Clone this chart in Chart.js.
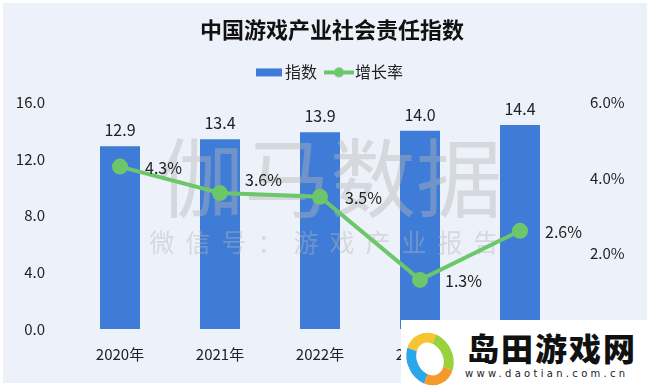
<!DOCTYPE html>
<html>
<head>
<meta charset="utf-8">
<script src="https://cdn.jsdelivr.net/npm/chart.js@4"></script>
<style>
  html, body { margin: 0; padding: 0; background: #fff; }
  #wrap { position: relative; width: 650px; height: 386px; }
  #box { position: absolute; left: 3px; top: 3px; width: 644px; height: 380px; background: #EDF1FA; }
  #c { position: absolute; left: 0; top: 0; }
  #logo { position: absolute; left: 401px; top: 320px; width: 249px; height: 66px; background: #fff; }
  #logo .ring { position: absolute; left: 6px; top: 12px; width: 26px; height: 34px; border-radius: 50%;
    border: 10px solid; border-color: #F7C531 #9BD13B #F39A2B #2BA6E8; transform: rotate(-25deg); }
  #logo .big { position: absolute; left: 66px; top: 4px; font: 900 32px "Noto Sans CJK SC"; color: #111; letter-spacing: 2px; }
  #logo .small { position: absolute; left: 64px; top: 48px; font: 10px "DejaVu Sans"; color: #222; letter-spacing: 3.3px; }
</style>
</head>
<body>
<div id="wrap">
  <div id="box"></div>
  <canvas id="c" width="650" height="386"></canvas>
  <div id="logo"><div class="ring"></div><div class="big">岛田游戏网</div><div class="small">www.daotian.com.cn</div></div>
</div>
<script>
// data
const years = ["2020年", "2021年", "2022年", "2023年", "2024年"];
const indexValues = [12.9, 13.4, 13.9, 14.0, 14.4];
const growthRates = [4.3, 3.6, 3.5, 1.3, 2.6];

const blue = "#3E7CD7";
const green = "#6CC76B";
const font = "'Noto Sans CJK SC', 'Noto Sans', sans-serif";

// legend icons
function icon(kind) {
  const cv = document.createElement("canvas");
  cv.width = 30; cv.height = 12;
  const g = cv.getContext("2d");
  if (kind === "bar") {
    g.fillStyle = blue;
    g.fillRect(2, 2, 26, 8);
  } else {
    g.strokeStyle = green; g.lineWidth = 4;
    g.beginPath(); g.moveTo(0, 6); g.lineTo(30, 6); g.stroke();
    g.fillStyle = green;
    g.beginPath(); g.arc(15, 6, 5, 0, Math.PI * 2); g.fill();
  }
  return cv;
}

// a bit more room under the legend
const legendGap = {
  id: "legendGap",
  beforeInit(chart) {
    const fit = chart.legend.fit;
    chart.legend.fit = function () {
      fit.bind(chart.legend)();
      this.height += 12;
    };
  }
};

// watermark sits over the bars but under the line
const watermark = {
  id: "watermark",
  afterDatasetDraw(chart, args) {
    if (args.index !== 0) return;
    const ctx = chart.ctx;
    ctx.save();
    ctx.fillStyle = "rgba(180,180,180,0.42)";
    ctx.textAlign = "center";
    ctx.textBaseline = "middle";
    ctx.font = "86px " + font;
    ctx.fillText("伽马数据", 330, 178);
    ctx.font = "25px " + font;
    const s = "微信号：游戏产业报告";
    for (let i = 0; i < s.length; i++) {
      ctx.fillText(s[i], 162 + i * 36, 242);
    }
    ctx.restore();
  }
};

const valueLabels = {
  id: "valueLabels",
  afterDatasetsDraw(chart) {
    const ctx = chart.ctx;
    ctx.save();
    ctx.fillStyle = "#222";
    ctx.font = "16px " + font;
    chart.getDatasetMeta(0).data.forEach((bar, i) => {
      ctx.textAlign = "center";
      ctx.textBaseline = "bottom";
      ctx.fillText(indexValues[i].toFixed(1), bar.x, bar.y - 8);
    });
    const pts = chart.getDatasetMeta(1).data;
    pts.forEach((pt, i) => {
      let dy = 1;
      const next = pts[i + 1];
      if (next) {
        // where the line runs under the label centre
        const lineY = pt.y + (next.y - pt.y) * 42 / (next.x - pt.x);
        if (Math.abs(lineY - pt.y) < 10) dy = -13;
      }
      ctx.textAlign = "left";
      ctx.textBaseline = "middle";
      ctx.fillText(growthRates[i].toFixed(1) + "%", pt.x + 25, pt.y + dy);
    });
    ctx.restore();
  }
};

new Chart(document.getElementById("c"), {
  data: {
    labels: years,
    datasets: [
      {
        type: "bar",
        label: "指数",
        data: indexValues,
        backgroundColor: blue,
        barPercentage: 0.4,
        categoryPercentage: 1,
        yAxisID: "y",
        order: 2
      },
      {
        type: "line",
        label: "增长率",
        data: growthRates,
        borderColor: green,
        backgroundColor: green,
        borderWidth: 4,
        pointRadius: 6,
        pointHoverRadius: 6,
        yAxisID: "y1",
        order: 1
      }
    ]
  },
  options: {
    responsive: false,
    animation: false,
    layout: { padding: { left: 14, right: 0, top: 12, bottom: 15 } },
    plugins: {
      title: {
        display: true,
        text: "中国游戏产业社会责任指数",
        font: { family: font, size: 22, weight: "bold" },
        color: "#111",
        padding: { top: 4, bottom: 8 }
      },
      legend: {
        labels: {
          font: { family: font, size: 16 },
          color: "#222",
          usePointStyle: true,
          boxWidth: 30,
          padding: 14,
          generateLabels() {
            return [
              { text: "指数", pointStyle: icon("bar"), fontColor: "#222", datasetIndex: 0, lineWidth: 0 },
              { text: "增长率", pointStyle: icon("line"), fontColor: "#222", datasetIndex: 1, lineWidth: 0 }
            ];
          }
        }
      },
      tooltip: { enabled: false }
    },
    scales: {
      x: {
        grid: { display: false },
        border: { display: false },
        ticks: { font: { family: font, size: 15 }, color: "#222", padding: 8 }
      },
      y: {
        position: "left",
        min: 0, max: 16,
        grid: { display: false },
        border: { display: false },
        afterFit(axis) { axis.width = 56; },
        ticks: {
          stepSize: 4,
          padding: 17,
          font: { family: font, size: 15 }, color: "#222",
          callback: v => v.toFixed(1)
        }
      },
      y1: {
        position: "right",
        min: 0, max: 6,
        grid: { display: false },
        border: { display: false },
        afterFit(axis) { axis.width = 80; },
        ticks: {
          stepSize: 2,
          padding: 12,
          font: { family: font, size: 15 }, color: "#222",
          callback: v => v === 0 ? "" : v.toFixed(1) + "%"
        }
      }
    }
  },
  plugins: [legendGap, watermark, valueLabels]
});
</script>
</body>
</html>
